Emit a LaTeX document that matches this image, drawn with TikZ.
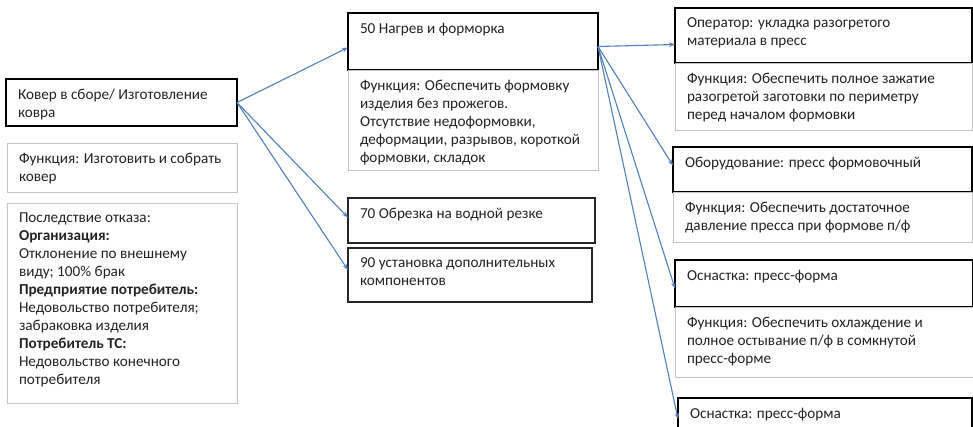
\documentclass[tikz,border=0pt]{standalone}
\usepackage{fontspec}
\setmainfont{Carlito}
\usetikzlibrary{arrows.meta}
\definecolor{arrowblue}{RGB}{79,129,189}
\definecolor{lightframe}{RGB}{196,196,196}
\definecolor{textgray}{RGB}{35,35,35}
\newcommand{\tb}[3]{\begin{minipage}[c][#2pt][t]{#1pt}\vspace*{10pt}\leftskip=12pt\rightskip=0pt plus 1fil\fontsize{15.2}{18}\selectfont\color{textgray}#3\par\end{minipage}}
\tikzset{
  box/.style={anchor=north west, inner sep=0pt, outer sep=0pt},
  headbox/.style={box, draw=black, line width=2.4pt},
  opbox/.style={box, draw=black!85, line width=1.5pt},
  funbox/.style={box, draw=lightframe, line width=1pt},
  link/.style={draw=arrowblue, line width=1.1pt, -{Stealth[length=6pt,width=4.5pt]}}
}
\begin{document}
\begin{tikzpicture}[x=1pt,y=-1pt]
\clip (0,0) rectangle (973,426);
\fill[white] (0,0) rectangle (973,426);
% left column
\node[headbox] (kover) at (6,79) {\tb{231}{47}{Ковер в сборе/ Изготовление\\ковра}};
\node[funbox] (kfun) at (7,143) {\tb{230}{49}{Функция: Изготовить и собрать\\ковер}};
\node[funbox] (kcons) at (7,203) {\tb{230}{200}{Последствие отказа:\\\textbf{Организация:}\\Отклонение по внешнему\\виду; 100\% брак\\\textbf{Предприятие потребитель:}\\Недовольство потребителя;\\забраковка изделия\\\textbf{Потребитель ТС:}\\Недовольство конечного\\потребителя}};
% middle column
\node[headbox] (op50) at (348,13) {\tb{250}{57}{50 Нагрев и форморка}};
\node[funbox] (f50) at (348,70) {\tb{250}{100}{Функция: Обеспечить формовку\\изделия без прожегов.\\Отсутствие недоформовки,\\деформации, разрывов, короткой\\формовки, складок}};
\node[opbox] (op70) at (348,198) {\tb{247}{45}{70 Обрезка на водной резке}};
\node[opbox] (op90) at (348,248) {\tb{244}{54}{90 установка дополнительных\\компонентов}};
% right column
\node[headbox] (oper) at (675,8) {\tb{297}{55}{Оператор: укладка разогретого\\материала в пресс}};
\node[funbox] (foper) at (675,63) {\tb{297}{67}{Функция: Обеспечить полное зажатие\\разогретой заготовки по периметру\\перед началом формовки}};
\node[headbox] (equip) at (673,147) {\tb{299}{45}{Оборудование: пресс формовочный}};
\node[funbox] (fequip) at (673,192) {\tb{299}{50}{Функция: Обеспечить достаточное\\давление пресса при формове п/ф}};
\node[headbox] (tool1) at (675,260) {\tb{298}{47}{Оснастка: пресс-форма}};
\node[funbox] (ftool1) at (675,307) {\tb{298}{70}{Функция: Обеспечить охлаждение и\\полное остывание п/ф в сомкнутой\\пресс-форме}};
\node[headbox] (tool2) at (678,398) {\tb{294}{42}{Оснастка: пресс-форма}};
% connectors
\draw[link] (kover.east) -- ([yshift=-6pt]op50.west);
\draw[link] (kover.east) -- ([yshift=3pt]op70.west);
\draw[link] (kover.east) -- ([yshift=5pt]op90.west);
\draw[link] ([yshift=-5pt]op50.east) -- ([yshift=-9pt]oper.west);
\draw[link] ([yshift=-5pt]op50.east) -- ([yshift=4pt]equip.west);
\draw[link] ([yshift=-5pt]op50.east) -- ([yshift=-5pt]tool1.west);
\draw[link] ([yshift=-5pt]op50.east) -- (tool2.west);
\end{tikzpicture}
\end{document}
